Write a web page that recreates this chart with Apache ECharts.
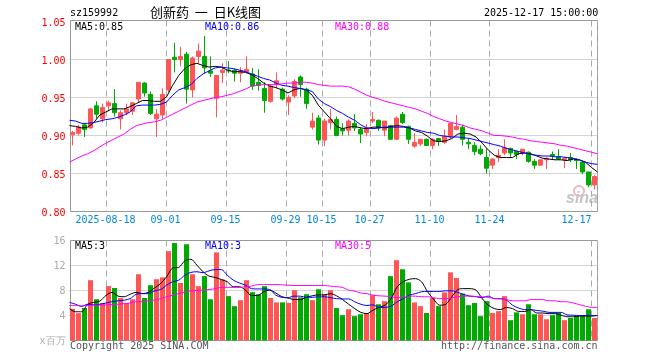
<!DOCTYPE html>
<html>
<head>
<meta charset="utf-8">
<style>
  html, body { margin: 0; padding: 0; background: #fff; }
  #chart { width: 660px; height: 360px; }
</style>
<script src="https://cdn.jsdelivr.net/npm/echarts@6/dist/echarts.min.js"></script>
</head>
<body>
<div id="chart"></div>
<script>
// daily candles
const opens = [
  .901,.903,.914,.910,.939,.922,.939,.942,.922,.930,
  .932,.948,.969,.954,.922,.927,.960,1.003,1.000,1.007,
  .960,1.004,1.004,.985,.949,.983,.986,.986,.982,.984,
  .981,.970,.962,.945,.968,.961,.944,.952,.977,.961,
  .911,.923,.894,.917,.921,.909,.907,.916,.908,.904,
  .919,.920,.907,.913,.895,.928,.912,.886,.889,.895,
  .887,.896,.891,.898,.908,.911,.891,.887,.882,.871,
  .861,.871,.877,.883,.879,.877,.878,.866,.861,.868,
  .875,.872,.868,.871,.868,.865,.852,.835
];
const closes = [
  .904,.911,.908,.935,.928,.937,.943,.930,.930,.935,
  .943,.970,.956,.929,.928,.954,1.000,1.000,1.004,.961,
  1.002,1.011,.989,.982,.979,.986,.985,.982,.985,.987,
  .965,.966,.946,.965,.972,.948,.950,.971,.967,.942,
  .919,.894,.919,.921,.900,.906,.919,.910,.902,.910,
  .921,.910,.919,.895,.923,.917,.895,.891,.895,.887,
  .895,.892,.899,.916,.912,.895,.889,.879,.876,.857,
  .869,.874,.884,.877,.875,.882,.866,.861,.868,.870,
  .873,.869,.870,.868,.867,.852,.835,.846
];
const lows = [
  .887,.900,.898,.909,.922,.917,.932,.925,.908,.927,
  .927,.944,.951,.927,.898,.922,.957,.983,.991,.942,
  .950,.995,.982,.977,.924,.969,.982,.971,.970,.982,
  .960,.959,.930,.943,.962,.946,.927,.949,.951,.935,
  .908,.888,.886,.908,.900,.900,.900,.906,.890,.899,
  .916,.906,.899,.894,.894,.915,.889,.884,.886,.886,
  .882,.886,.889,.896,.907,.887,.882,.874,.874,.850,
  .856,.865,.874,.872,.869,.874,.864,.856,.860,.856,
  .868,.868,.857,.865,.856,.849,.832,.829
];
const highs = [
  .906,.914,.916,.936,.945,.942,.946,.961,.933,.942,
  .944,.970,.970,.958,.935,.962,1.000,1.022,1.017,1.010,
  1.004,1.021,1.031,1.004,.979,.995,.998,.988,.990,1.004,
  .989,.987,.970,.967,.983,.963,.953,.974,.979,.963,
  .930,.927,.922,.935,.925,.916,.921,.928,.911,.915,
  .931,.921,.919,.914,.925,.931,.913,.903,.895,.896,
  .896,.897,.908,.916,.927,.914,.896,.891,.887,.883,
  .870,.882,.895,.884,.879,.882,.879,.869,.868,.871,
  .879,.882,.871,.877,.870,.866,.852,.848
];
const ma5 = [
  .913,.912,.910,.911,.917,.927,.931,.935,.935,.935,
  .938,.942,.946,.946,.945,.945,.951,.966,.979,.988,
  .993,.995,.992,.990,.991,.990,.986,.984,.984,.983,
  .980,.975,.969,.965,.963,.960,.956,.960,.962,.960,
  .953,.940,.931,.922,.912,.909,.911,.912,.910,.909,
  .911,.911,.910,.912,.913,.912,.910,.906,.904,.899,
  .893,.892,.893,.896,.902,.903,.902,.898,.890,.881,
  .874,.871,.871,.871,.876,.877,.876,.873,.870,.869,
  .868,.868,.867,.869,.868,.865,.858,.852
];
const ma10 = [
  .920,.919,.916,.916,.917,.919,.921,.922,.924,.927,
  .931,.939,.940,.940,.940,.941,.944,.953,.960,.963,
  .967,.975,.981,.985,.989,.990,.989,.988,.986,.984,
  .981,.978,.975,.973,.969,.966,.965,.963,.962,.960,
  .958,.948,.942,.938,.933,.929,.924,.920,.914,.910,
  .909,.910,.911,.911,.911,.911,.910,.908,.906,.904,
  .903,.900,.899,.898,.898,.897,.896,.894,.892,.890,
  .888,.886,.883,.881,.879,.877,.875,.874,.873,.873,
  .872,.872,.871,.870,.868,.865,.863,.862
];
const ma30 = [
  .865,.869,.873,.876,.880,.885,.890,.894,.898,.902,
  .908,.913,.915,.917,.918,.920,.924,.928,.932,.936,
  .940,.944,.946,.948,.950,.951,.953,.955,.958,.961,
  .965,.966,.967,.967,.967,.968,.969,.969,.970,.970,
  .969,.967,.966,.965,.965,.965,.964,.961,.957,.953,
  .950,.948,.945,.943,.941,.939,.937,.935,.932,.929,
  .925,.922,.919,.917,.915,.913,.910,.908,.906,.903,
  .900,.900,.899,.898,.896,.895,.893,.892,.891,.890,
  .889,.887,.886,.884,.882,.880,.878,.876
];
const volumes = [
  5.07,4.37,5.2,9.65,6.6,6.0,8.7,8.4,6.8,6.0,
  6.6,10.6,6.8,8.85,9.8,10.1,14.3,15.6,9.2,15.4,
  10.6,8.7,10.3,6.6,14.1,9.76,7.1,5.5,6.45,9.65,
  7.73,7.4,8.7,6.8,6.1,6.1,6.0,8.05,6.9,7.4,
  6.45,8.2,7.4,8.05,5.2,4.05,5.0,3.9,4.2,4.4,
  7.25,5.8,6.3,10.3,12.85,11.4,9.3,6.1,5.5,4.4,
  6.8,5.5,7.7,10.9,10,7.5,5.65,6,3.9,6.3,
  4.4,4.7,7.1,3.25,4.5,4.2,5.8,4.2,4.2,3.4,
  4.05,4.4,3.25,3.6,3.9,3.9,5.0,3.6
];
const volMa5 = [
  5.07,4.6,4.6,5.8,6.1,6.3,7.2,7.7,7.1,7.0,
  7.4,7.7,7.5,7.7,8.4,9.1,10.2,11.6,11.7,12.75,
  13.0,12.05,11,10.3,10.1,9.76,9.4,8.6,8.6,8.05,
  7.2,7.2,7.8,8.05,7.6,7.0,6.8,6.55,6.55,6.9,
  7.15,7.3,7.3,7.5,7.15,6.55,5.8,5.1,4.5,4.3,
  4.85,5.3,5.65,6.7,8.6,9.4,9.8,9.9,9.4,7.8,
  6.6,5.65,5.8,7,8.15,8.3,8.3,8.05,6.7,5.65,
  5.1,4.95,5.3,5.1,4.65,4.65,4.95,4.4,4.4,4.3,
  4.3,4.05,3.8,3.8,3.9,3.9,3.9,4.0
];
const volMa10 = [
  6.1,5.8,5.45,5.8,5.7,5.8,6.0,6.2,6.35,6.45,
  6.7,7.4,7.5,7.5,7.95,8.15,8.85,9.4,9.65,10.45,
  10.9,11,10.85,11.15,11.35,11.35,10.45,9.65,9.2,8.85,
  8.3,8.25,8.25,8.15,7.25,6.9,6.85,7.1,7.1,6.9,
  6.9,7.0,7.0,6.85,6.7,6.65,6.65,6.2,5.8,5.6,
  5.7,5.3,5.3,5.5,6.2,6.7,7.25,7.5,7.8,7.85,
  7.85,7.85,7.95,7.95,7.7,7.35,7.1,7.0,6.85,7.1,
  6.7,6.7,6.45,5.65,5.2,4.95,4.95,4.8,4.7,4.5,
  4.5,4.5,4.1,4.05,4.0,4.0,4.0,4.0
];
const volMa30 = [
  5.6,5.6,5.55,5.6,5.65,5.65,5.7,5.75,5.8,5.9,
  6.0,6.2,6.2,6.35,6.45,6.7,7.0,7.25,7.5,7.75,
  7.95,8.0,8.05,8.15,8.3,8.5,8.5,8.5,8.5,8.6,
  8.7,8.95,8.95,8.95,8.95,8.9,8.85,8.8,8.8,8.8,
  8.8,8.8,8.8,8.7,8.6,8.5,8.05,7.9,7.6,7.5,
  7.25,7.15,7.1,7,6.85,6.85,7.1,7.1,7,7,
  6.85,6.7,6.7,6.85,7.0,7.1,7.1,7.05,7.0,6.9,
  6.7,6.65,6.55,6.35,6.35,6.35,6.55,6.55,6.55,6.35,
  6.35,6.2,6.2,6,5.75,5.5,5.3,5.3
];

// category index -> date text under the axis
const tickIndexes = [6, 16, 26, 36, 42, 50, 60, 70, 87];
const tickLabels = ['2025-08-18', '09-01', '09-15', '09-29', '10-15', '10-27', '11-10', '11-24', '12-17'];

const UP = '#ff5555';
const DOWN = '#00aa00';
const MONO = '"DejaVu Sans Mono", monospace';

const categories = opens.map((_, i) => i);
const candles = opens.map((o, i) => [o, closes[i], lows[i], highs[i]]);

const chart = echarts.init(document.getElementById('chart'), null, { renderer: 'canvas' });

function text(str, left, top, color, font) {
  return {
    text: str, left, top, padding: 0,
    textStyle: { color, fontFamily: font || MONO, fontSize: font ? 13 : 10, fontWeight: 'normal', lineHeight: font ? 13 : 10 }
  };
}

// band axis of the data grids: 6px per day, so bars land on whole pixels
function dataAxis(gridIndex, withLabels) {
  return {
    type: 'category',
    gridIndex,
    data: categories,
    boundaryGap: true,
    axisLine: { show: false },
    axisTick: { show: false },
    splitLine: { show: false },
    axisLabel: withLabels ? {
      show: true,
      interval: 0,
      margin: 4,
      hideOverlap: false,
      // the last date sits left of its gridline, so it gets its own slot
      formatter: (v, i) => {
        if (i === 84) return '{last|12-17}';
        const at = tickIndexes.indexOf(i);
        return at >= 0 && i !== 87 ? '{d|' + tickLabels[at] + '}' : '';
      },
      rich: {
        d: { color: '#0088dd', fontFamily: MONO, fontSize: 10, padding: [0, 6, 0, 0] },
        last: { color: '#0088dd', fontFamily: MONO, fontSize: 10 }
      }
    } : { show: false }
  };
}

function lineAxis(gridIndex) {
  return { type: 'category', gridIndex, data: categories, boundaryGap: false, show: false };
}

// frame grids only carry the dashed date gridlines
function frameAxis(gridIndex) {
  return {
    type: 'category',
    gridIndex,
    data: categories,
    boundaryGap: true,
    axisLine: { show: false },
    axisTick: { show: false },
    axisLabel: { show: false },
    splitLine: {
      show: true,
      interval: (i) => tickIndexes.includes(i),
      lineStyle: { color: '#aaa', type: [6, 4], width: 1 }
    }
  };
}

function frameY(gridIndex) {
  return {
    type: 'value', gridIndex, min: 0, max: 1,
    axisLine: { show: false }, axisTick: { show: false }, axisLabel: { show: false }, splitLine: { show: false }
  };
}

function maLine(name, data, color, xAxisIndex, yAxisIndex, smooth) {
  return {
    name, type: 'line', data, xAxisIndex, yAxisIndex, smooth,
    symbol: 'none', z: 5,
    lineStyle: { color, width: 1 }
  };
}

const option = {
  animation: false,
  backgroundColor: '#fff',
  title: [
    text('sz159992', 70, 8, '#000'),
    text('创新药  一  日K线图', 150, 6, '#000', '"Noto Sans CJK SC"'),
    text('2025-12-17 15:00:00', 484, 8, '#000'),
    text('MA5:0.85', 75, 22, '#000'),
    text('MA10:0.86', 205, 22, '#0000ff'),
    text('MA30:0.88', 335, 22, '#ff00ff'),
    text('MA5:3', 75, 241, '#000'),
    text('MA10:3', 205, 241, '#0000ff'),
    text('MA30:5', 335, 241, '#ff00ff'),
    text('Copyright 2025 SINA.COM', 70, 341, '#555'),
    text('http://finance.sina.com.cn', 441, 341, '#555')
  ],
  graphic: [
    { type: 'circle', shape: { cx: 579, cy: 191, r: 5 }, style: { fill: 'none', stroke: '#f2b8b8', lineWidth: 2 }, z: 0 },
    { type: 'text', x: 566, y: 191, style: { text: 'sina', fill: '#c4c4c4', font: 'italic bold 16px "Liberation Sans"' }, z: 0 }
  ],
  grid: [
    { left: 69.5, top: 21.5, width: 528, height: 190 },
    { left: 69.5, top: 240.5, width: 528, height: 100 },
    { left: 70.5, top: 20.5, width: 527, height: 191, show: true, borderColor: '#999', borderWidth: 1, backgroundColor: 'transparent' },
    { left: 70.5, top: 240.5, width: 527, height: 100, show: true, borderColor: '#999', borderWidth: 1, backgroundColor: 'transparent' }
  ],
  xAxis: [dataAxis(0, true), lineAxis(0), dataAxis(1, false), lineAxis(1), frameAxis(2), frameAxis(3)],
  yAxis: [
    {
      type: 'value', gridIndex: 0, min: 0.8, max: 1.05, interval: 0.05, scale: true,
      axisLine: { show: false }, axisTick: { show: false },
      axisLabel: {
        margin: 4,
        formatter: (v) => '{v|' + v.toFixed(2) + '}',
        rich: { v: { color: '#ff0000', fontFamily: MONO, fontSize: 10, padding: [3, 0, 0, 0] } }
      },
      splitLine: { lineStyle: { color: '#aaa', type: 'dotted' }, showMinLine: false, showMaxLine: false }
    },
    {
      type: 'value', gridIndex: 1, min: 0, max: 16, interval: 4,
      axisLine: { show: false }, axisTick: { show: false },
      axisLabel: {
        margin: 4,
        formatter: (v) => '{v|' + (v === 0 ? 'x百万' : v) + '}',
        rich: { v: { color: '#aaa', fontFamily: MONO, fontSize: 10, padding: [2, 0, 0, 0] } }
      },
      splitLine: { lineStyle: { color: '#aaa', type: 'dotted' }, showMinLine: false, showMaxLine: false }
    },
    frameY(2),
    frameY(3)
  ],
  series: [
    {
      name: 'K', type: 'candlestick', data: candles, xAxisIndex: 0, yAxisIndex: 0,
      barWidth: 4,
      itemStyle: { color: UP, color0: DOWN, borderColor: UP, borderColor0: DOWN, borderWidth: 1 }
    },
    maLine('MA5', ma5, '#000', 1, 0, false),
    maLine('MA10', ma10, '#0000ff', 1, 0, false),
    maLine('MA30', ma30, '#ff00ff', 1, 0, false),
    {
      name: 'Volume', type: 'bar', data: volumes.map((v, i) => ({
        value: v,
        itemStyle: { color: closes[i] >= opens[i] ? UP : DOWN }
      })),
      xAxisIndex: 2, yAxisIndex: 1, barWidth: 5
    },
    maLine('VolMA5', volMa5, '#000', 3, 1, 0.3),
    maLine('VolMA10', volMa10, '#0000ff', 3, 1, 0.3),
    maLine('VolMA30', volMa30, '#ff00ff', 3, 1, 0.3)
  ]
};

chart.setOption(option);
</script>
</body>
</html>
